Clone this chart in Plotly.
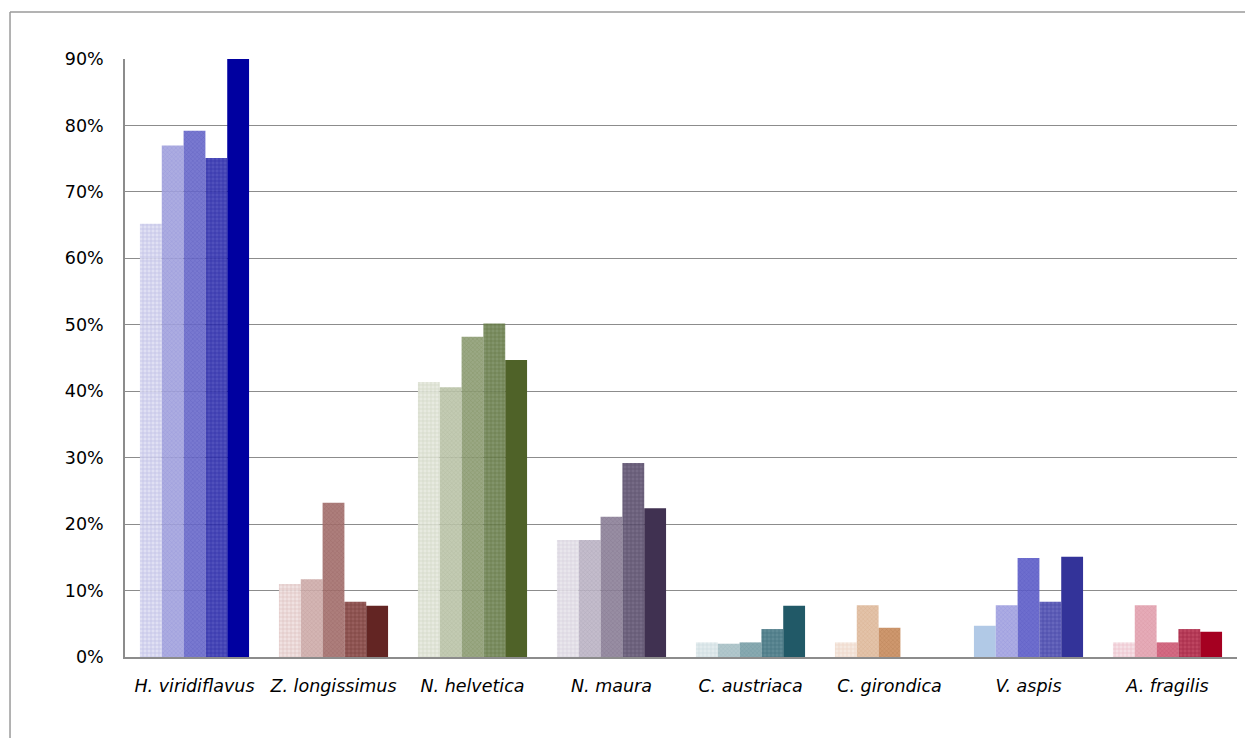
import plotly.graph_objects as go

# Species on the x axis
species = ["H. viridiflavus", "Z. longissimus", "N. helvetica", "N. maura",
           "C. austriaca", "C. girondica", "V. aspis", "A. fragilis"]

# Five sampling series (percent); None = no bar
series_1 = [65.2, 11.0, 41.4, 17.6, 2.2, 2.2, 4.7, 2.2]
series_2 = [77.0, 11.7, 40.6, 17.6, 2.0, 7.8, 7.8, 7.8]
series_3 = [79.2, 23.2, 48.2, 21.1, 2.2, 4.4, 14.9, 2.2]
series_4 = [75.1, 8.3, 50.2, 29.2, 4.2, None, 8.3, 4.2]
series_5 = [90.0, 7.7, 44.7, 22.4, 7.7, None, 15.1, 3.8]

y_ticks = [0, 10, 20, 30, 40, 50, 60, 70, 80, 90]
y_tick_labels = ["0%", "10%", "20%", "30%", "40%", "50%", "60%", "70%", "80%", "90%"]

# Fill shades per species, light -> dark, one per series
fills = {
    "H. viridiflavus": ["#dcdcf2", "#a3a3de", "#6a6acb", "#3c3cb4", "#0000a0"],
    "Z. longissimus": ["#eedede", "#cfadab", "#a4706d", "#8b4c4a", "#632523"],
    "N. helvetica": ["#e4e8dc", "#bcc5aa", "#8f9e76", "#74885a", "#4f6228"],
    "N. maura": ["#e6e3ea", "#bdb5c6", "#8d8199", "#675a78", "#403151"],
    "C. austriaca": ["#dfe9eb", "#a9c1c6", "#7ba0a8", "#4d7d89", "#215967"],
    "C. girondica": ["#f4e6dc", "#e0bc9f", "#c98c5e", "#b06a30", "#974806"],
    "V. aspis": ["#a9c3e3", "#a3a3e0", "#5e5ec9", "#5656b6", "#333399"],
    "A. fragilis": ["#f4dde3", "#e3a2b0", "#cf5a75", "#b7304e", "#a50021"],
}
# Texture line colours per species for the patterned series
inks = {
    "H. viridiflavus": ["#b4b4e2", "#8c8cd4", "#5050bc", "#1c1ca0"],
    "Z. longissimus": ["#d8b8b6", "#bc9492", "#905a57", "#6a2a28"],
    "N. helvetica": ["#cdd3bf", "#a8b294", "#778858", "#586c34"],
    "N. maura": ["#d2cbd8", "#a69db0", "#766a84", "#4a3c5c"],
    "C. austriaca": ["#c6d7da", "#94b2b8", "#648f98", "#2c6270"],
    "C. girondica": ["#eacfbe", "#d3a684", "#b07444", "#8e5018"],
    "V. aspis": ["#a9c3e3", "#8a8ad8", "#4a4abe", "#30309c"],
    "A. fragilis": ["#e8b6c2", "#d68c9c", "#bc4260", "#960c2c"],
}

all_series = [series_1, series_2, series_3, series_4, series_5]
pattern_shapes = ["+", "x", "x", "+", ""]
pattern_sizes = [4, 3, 3, 4, 4]
pattern_solid = [0.3, 0.25, 0.25, 0.3, 0.3]
opacities = [0.9, 0.9, 0.9, 0.9, 1.0]

fig = go.Figure()
for i, vals in enumerate(all_series):
    for j, sp in enumerate(species):
        if vals[j] is None:
            continue
        shape = pattern_shapes[i]
        if i == 0 and sp == "V. aspis":
            shape = ""  # plain fill for this bar
        if shape:
            pattern = dict(shape=shape, fgcolor=inks[sp][i], bgcolor=fills[sp][i],
                           size=pattern_sizes[i], solidity=pattern_solid[i],
                           fillmode="replace")
        else:
            pattern = dict(shape="")
        fig.add_trace(go.Bar(
            x=[sp], y=[vals[j]], name=f"series {i + 1}",
            offsetgroup=str(i), legendgroup=str(i),
            marker=dict(color=fills[sp][i], line=dict(width=0), pattern=pattern,
                        opacity=opacities[i]),
            showlegend=False,
        ))

# Frame lines around the chart area (left and top edges)
frame = dict(color="#9a9a9a", width=1.5)
fig.add_shape(type="line", xref="paper", yref="paper",
              x0=-0.1034, x1=-0.1034, y0=1.0786, y1=-0.2, line=frame)
fig.add_shape(type="line", xref="paper", yref="paper",
              x0=-0.1034, x1=1.02, y0=1.0786, y1=1.0786, line=frame)

fig.update_layout(
    width=1245, height=738,
    margin=dict(l=125, r=8, t=59, b=81),
    paper_bgcolor="white", plot_bgcolor="white",
    barmode="group", bargap=0.215, bargroupgap=0,
    font=dict(family="DejaVu Sans", size=17, color="#000000"),
)
fig.update_xaxes(
    categoryorder="array", categoryarray=species,
    showgrid=False, showline=True, linecolor="#8c8c8c", linewidth=2,
    ticks="", tickfont=dict(family="DejaVu Sans", size=17.5, style="italic"),
    ticklabelstandoff=12,
)
fig.update_yaxes(
    range=[0, 90], tickvals=y_ticks, ticktext=y_tick_labels,
    tickfont=dict(size=17.5),
    showgrid=True, gridcolor="#8c8c8c", gridwidth=1,
    showline=True, linecolor="#8c8c8c", linewidth=1.5,
    ticks="", zeroline=False, ticklabelstandoff=16,
)

fig.write_html("out.html")
